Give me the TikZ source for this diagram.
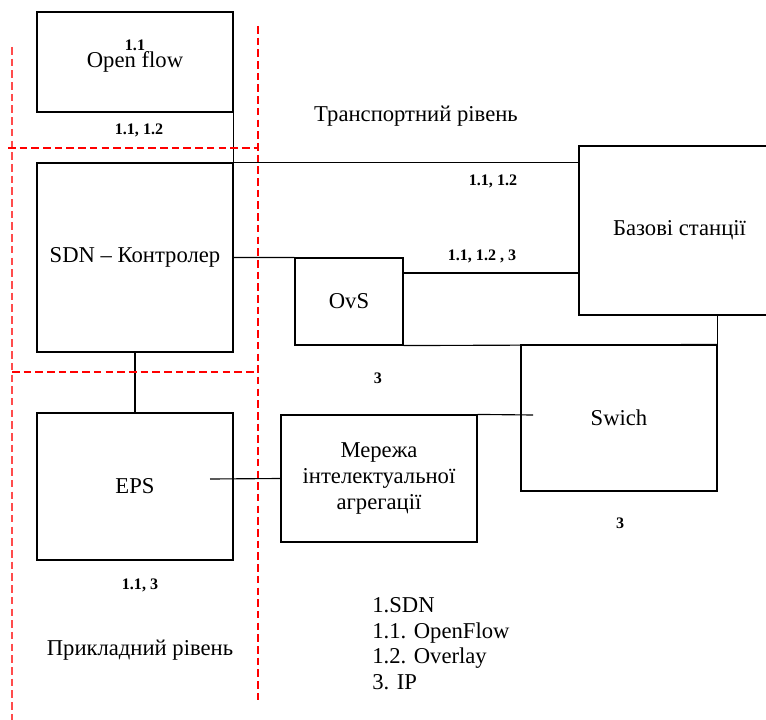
\documentclass[tikz,border=0pt]{standalone}
\usepackage{fontspec}
\setmainfont{Liberation Serif}
\newcommand{\px}{0.53pt}
\tikzset{
  blok/.style 2 args={draw, line width=0.6pt, minimum width=#1*\px, minimum height=#2*\px, inner sep=0pt, align=center},
  mitka/.style={font=\bfseries\fontsize{8.5}{10}\selectfont, inner sep=0pt},
  zviazok/.style={line width=0.6pt},
  mezha/.style={red, line width=0.6pt, dash pattern=on 4pt off 2.2pt},
}
\begin{document}
\begin{tikzpicture}[x=\px, y=-\px, every node/.style={font=\fontsize{12}{13.6}\selectfont}]
\clip (0,0) rectangle (766,720);
% boxes
\node[blok={196}{100}] (of) at (135,62) {Open flow};
\node[blok={196}{189}] (sdn) at (135,257.5) {SDN -- Контролер};
\node[blok={196}{147}] (eps) at (135,486.5) {EPS};
\node[blok={108}{87}] (ovs) at (349,301.5) {OvS};
\node[blok={201}{169}] (bs) at (679.5,230.5) {Базові станції};
\node[blok={196}{146}] (sw) at (619,418) {Swich};
\node[blok={196}{127}] (mer) at (379,478.5) {Мережа\\інтелектуальної\\агрегації};
% free ends
\coordinate (ovsr) at (403,273);
\coordinate (epsr) at (210,479);
\coordinate (swl) at (533,415);
% links
\draw[zviazok] (of.south east) -- (sdn.north east);
\draw[zviazok] (sdn.north) -- (sdn.north -| bs.west);
\draw[zviazok] (sdn.east) -- (ovs.north west);
\draw[zviazok] (ovsr) -- (ovsr -| bs.west);
\draw[zviazok] (ovs.south east) -- (sw.north east);
\draw[zviazok] (sw.north east) -- (sw.north east |- bs.south);
\draw[zviazok] (mer.north east) -- (swl);
\draw[zviazok] (epsr) -- (mer.west);
\draw[zviazok] (sdn.south) -- (eps.north);
% level borders
\draw[mezha, red!70] (12,47) -- (12,720);
\draw[mezha] (258,26) -- (258,702);
\draw[mezha] (8,148) -- (258,148);
\draw[mezha] (12,372) -- (258,372);
% labels
\node[mitka] (l1) at (135,45) {1.1};
\node[mitka] (l2) at (139,130) {1.1, 1.2};
\node[mitka] (l3) at (493,181) {1.1, 1.2};
\node[mitka] (l4) at (482,256) {1.1, 1.2 , 3};
\node[mitka] (l5) at (378,378) {3};
\node[mitka] (l6) at (620,523) {3};
\node[mitka] (l7) at (140,585) {1.1, 3};
\node (tr) at (416,116) {Транспортний рівень};
\node (pr) at (140,650) {Прикладний рівень};
\node[anchor=north west, align=left, inner sep=0pt] (leg) at (372,597) {1.SDN\\1.1. OpenFlow\\1.2. Overlay\\3. IP};
\end{tikzpicture}
\end{document}
